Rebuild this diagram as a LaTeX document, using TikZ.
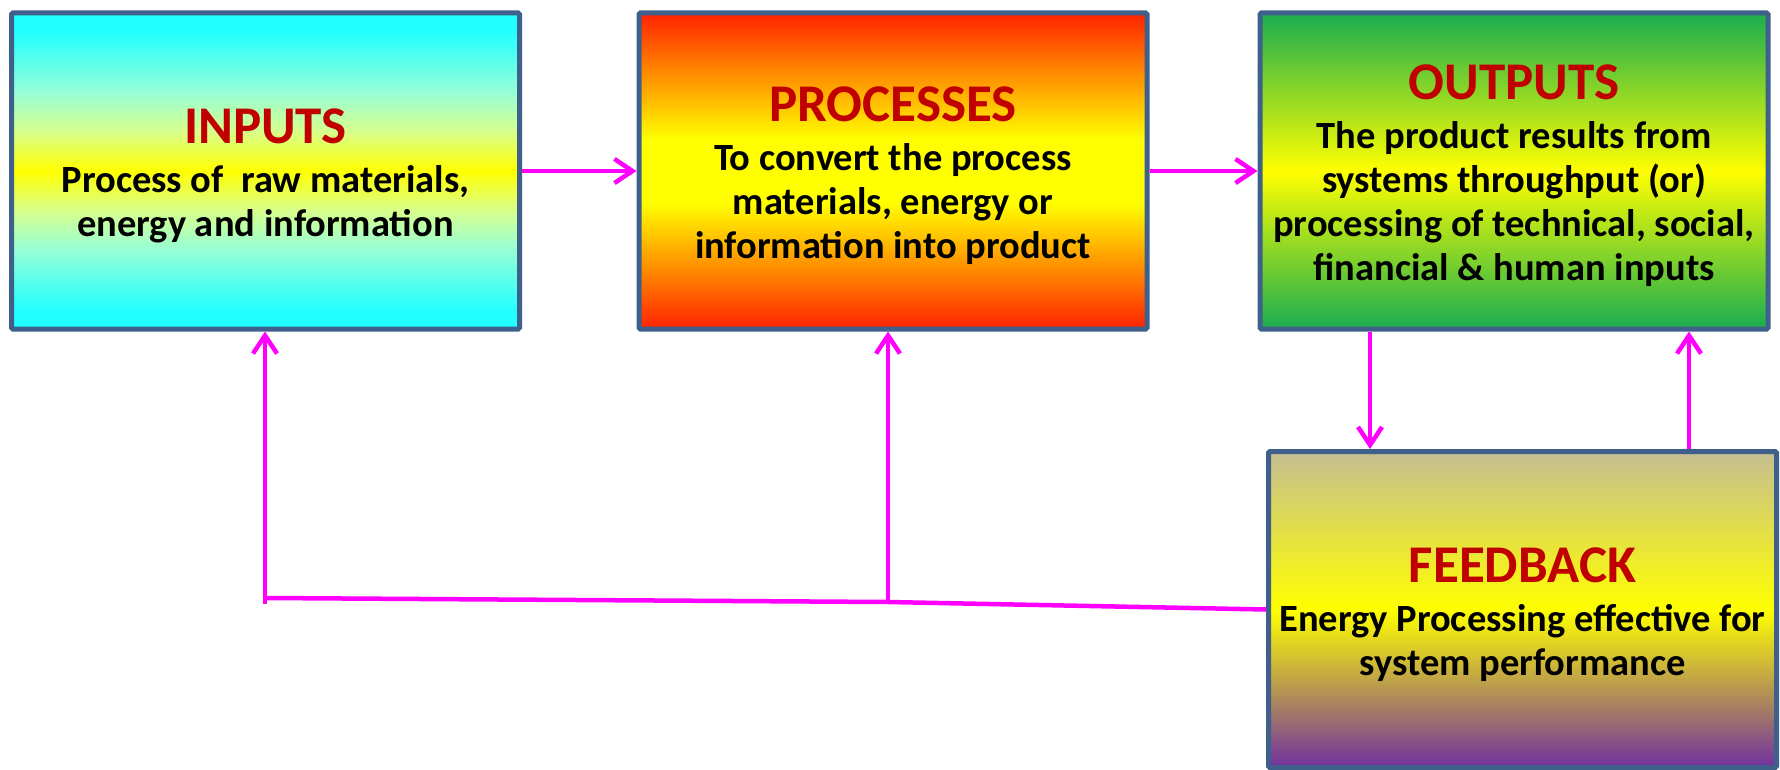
\documentclass[tikz,border=0pt]{standalone}
\usepackage{fontspec}
\setmainfont{Carlito}
\usetikzlibrary{arrows.meta}
\definecolor{bordc}{RGB}{62,96,138}
\definecolor{ttl}{RGB}{192,0,0}
\definecolor{mag}{RGB}{255,0,255}
\definecolor{cyn}{RGB}{34,255,255}
\definecolor{cynA}{RGB}{150,255,215}
\definecolor{cynB}{RGB}{215,255,140}
\definecolor{rd}{RGB}{255,34,0}
\definecolor{grn}{RGB}{34,176,76}
\definecolor{tanc}{RGB}{198,190,146}
\definecolor{purp}{RGB}{112,48,160}
\definecolor{ylw}{RGB}{255,255,0}
\pgfdeclareverticalshading{shIn}{100bp}{color(0bp)=(cyn); color(25bp)=(cyn); color(28bp)=(cyn); color(37.5bp)=(cynA); color(43.75bp)=(cynB); color(50bp)=(ylw); color(56.25bp)=(cynB); color(62.5bp)=(cynA); color(72bp)=(cyn); color(75bp)=(cyn); color(100bp)=(cyn)}
\pgfdeclareverticalshading{shPr}{100bp}{color(0bp)=(rd); color(25bp)=(rd); color(45bp)=(ylw); color(55bp)=(ylw); color(75bp)=(rd); color(100bp)=(rd)}
\pgfdeclareverticalshading{shOut}{100bp}{color(0bp)=(grn); color(25bp)=(grn); color(26bp)=(grn); color(50bp)=(ylw); color(74bp)=(grn); color(75bp)=(grn); color(100bp)=(grn)}
\pgfdeclareverticalshading{shFb}{100bp}{color(0bp)=(purp); color(25bp)=(purp); color(50bp)=(ylw); color(75bp)=(tanc); color(100bp)=(tanc)}
\newcommand\boxtitle[1]{{\color{ttl}\fontsize{53}{53}\selectfont #1}}
\begin{document}
\begin{tikzpicture}[x=1pt,y=-1pt,
  box/.style={draw=bordc, line width=5pt, rounded corners=1.5pt,
    minimum width=508pt, minimum height=316pt, inner sep=0pt},
  boxtext/.style={align=center, inner sep=0pt, yshift=-5pt,
    font=\bfseries\fontsize{38.5}{44}\selectfont},
  wire/.style={draw=mag, line width=4.5pt},
  conn/.style={wire, -{Straight Barb[length=18pt,width=24pt]}},
  ]
\useasboundingbox (0,0) rectangle (1780,770);
\node[box, shading=shIn] (in) at (265.5,171) {};
\node[box, shading=shPr] (pr) at (893,171) {};
\node[box, shading=shOut] (out) at (1514,171) {};
\node[box, shading=shFb] (fb) at (1522.5,609.5) {};
\node[boxtext] (inT) at (in.center)
  {\boxtitle{INPUTS}\\[5pt]Process of~ raw materials,\\energy and information};
\node[boxtext] (prT) at (pr.center)
  {\boxtitle{PROCESSES}\\[5pt]To convert the process\\materials, energy or\\information into product};
\node[boxtext] (outT) at (out.center)
  {\boxtitle{OUTPUTS}\\[5pt]The product results from\\systems throughput (or)\\processing of technical, social,\\financial \& human inputs};
\node[boxtext] (fbT) at (fb.center)
  {\boxtitle{FEEDBACK}\\[5pt]Energy Processing effective for\\system performance};
\draw[conn] (in.east) -- (pr.west);
\draw[conn] (pr.east) -- (out.west);
\coordinate (a) at (1370,0);
\coordinate (b) at (1689,0);
\draw[conn] (out.south -| a) -- (fb.north -| a);
\draw[conn] (fb.north -| b) -- (out.south -| b);
\coordinate (j1) at (265,598);
\coordinate (j1b) at (265,604);
\coordinate (j2) at (888,602);
\draw[wire] (fb.west) -- (j2) -- (j1);
\draw[conn] (j1b) -- (in.south -| j1b);
\draw[conn] (j2) -- (pr.south -| j2);
\end{tikzpicture}
\end{document}
